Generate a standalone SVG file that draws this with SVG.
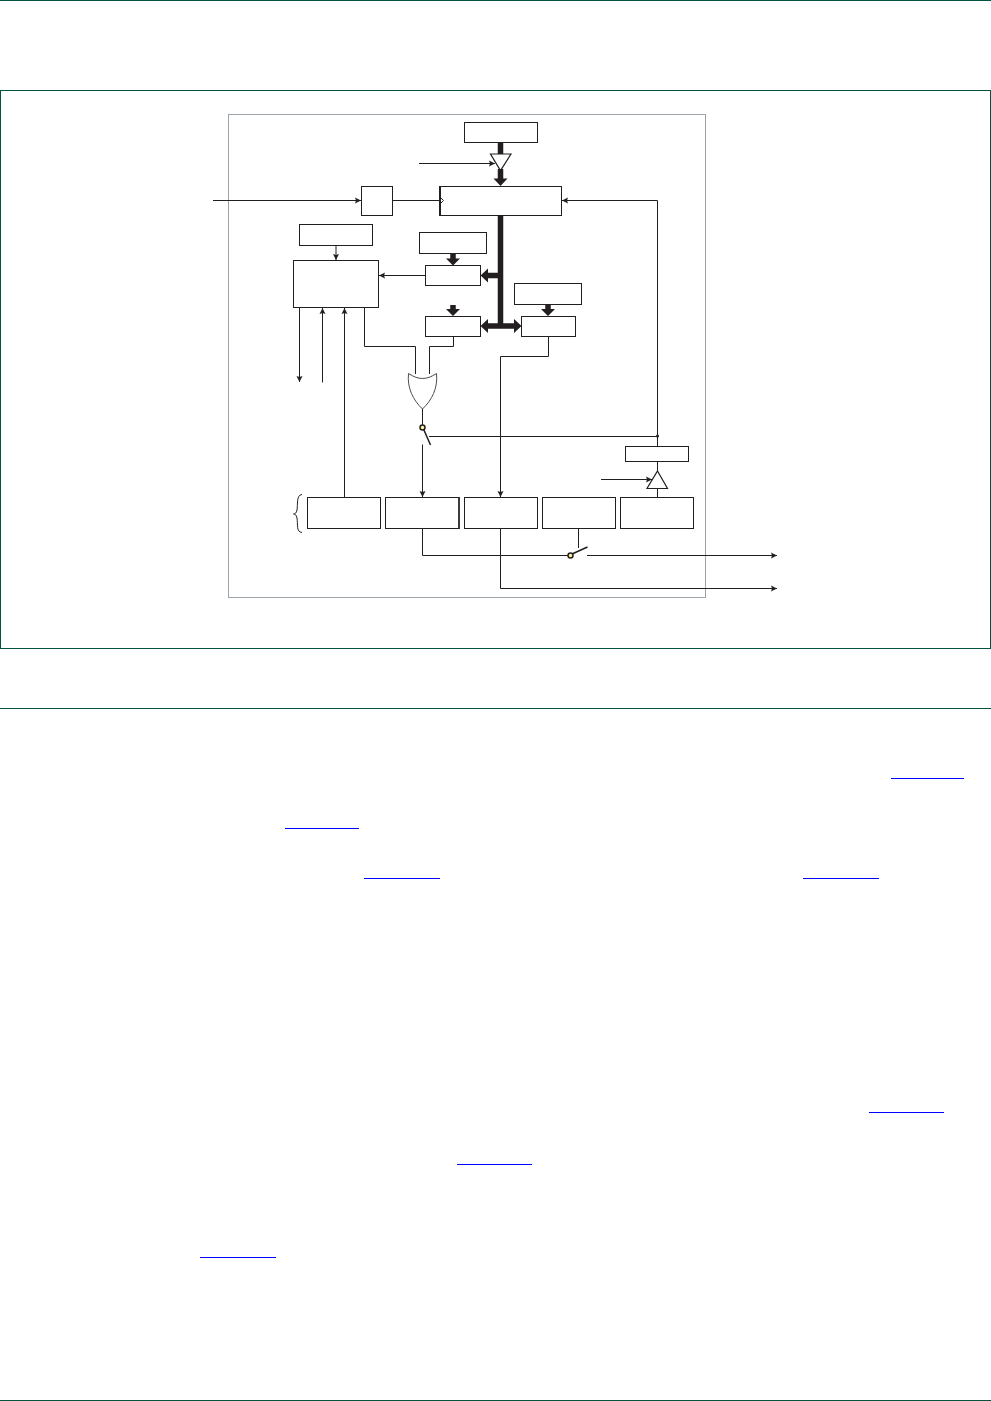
<svg xmlns="http://www.w3.org/2000/svg" width="991" height="1401" viewBox="0 0 991 1401">
<style>
.b{fill:#fff;stroke:#231f20;stroke-width:1}
.l{fill:none;stroke:#231f20;stroke-width:1}
.t{fill:none;stroke:#231f20;stroke-width:5.5}
.h{fill:#231f20}
.g{fill:none;stroke:#00543f;stroke-width:1}
.u{fill:none;stroke:#0000ff;stroke-width:1}
</style>
<defs>
<marker id="a" markerUnits="userSpaceOnUse" markerWidth="7" markerHeight="7" refX="6" refY="3.5" orient="auto"><path d="M0 .5L6 3.5L0 6.500L1 3.500Z" fill="#231f20"/></marker>
</defs>
<rect width="991" height="1401" fill="#fff"/>
<g id="page-rules">
<path class="g" d="M0 .5H991M0 708.500H991M0 1400.500H991"/>
<rect class="g" x=".5" y="90.500" width="990" height="558"/>
</g>
<g id="links">
<path class="u" d="M891 778.500H964M285 828.500H359M364 878.500H440M803 878.500H879M869 1112.500H944M457 1164.500H532M200 1257.500H276"/>
</g>
<rect id="frame" x="228.500" y="114.500" width="477" height="483" fill="none" stroke="#9da3aa" stroke-width="1"/>
<g id="buffer-top"><path d="M490.500 154H511L500.500 170.500Z" fill="#fff" stroke="#231f20" stroke-width="1.200"/></g>
<g id="buffer-bottom"><path d="M657.500 471L667.500 488.500H647Z" fill="#fff" stroke="#231f20" stroke-width="1.200"/></g>
<g id="counter"><rect class="b" x="439.500" y="186.500" width="122" height="29"/><path d="M440 186V216" stroke="#231f20" stroke-width="2"/></g>
<g id="connectors">
<path class="t" d="M500.500 142V154M500.500 169V180M500.500 215V326M500 275.500H487M486 326H516M453 253V259M453 305V310M548 304V310"/>
<path class="h" d="M500.500 186L493.500 178.500H507.500ZM480.500 275.500L488 268.500V282.500ZM480.500 326L488 319V333ZM521.500 326L514 319V333ZM453 265.500L446 258.500H460ZM453 316L446 309H460ZM548 316L541 309H555Z"/>
<path class="l" marker-end="url(#a)" d="M419 163.500H495"/>
<path class="l" marker-end="url(#a)" d="M213 200.500H361"/>
<path class="l" d="M392.500 200.500H440"/>
<path class="l" stroke-width="1.500" d="M440.500 197.500L443.500 200.500L440.500 203.500"/>
<path class="l" marker-end="url(#a)" d="M657.500 436V200.500H562"/>
<path class="l" marker-end="url(#a)" d="M336 245V260"/>
<path class="l" marker-end="url(#a)" d="M425 275.500H379"/>
<path class="l" marker-end="url(#a)" d="M299.500 307.500V382"/>
<path class="l" marker-end="url(#a)" d="M322.500 382.500V308"/>
<path class="l" marker-end="url(#a)" d="M344.500 497V308"/>
<path class="l" d="M364.500 307.500V346.500H415.500V374"/>
<path class="l" d="M453.500 336.500V346.500H429.500V374"/>
<path class="l" d="M422.500 409V425"/>
<path class="l" d="M429 436.500H657.500V446.500"/>
<path class="l" marker-end="url(#a)" d="M422.500 444.500V497"/>
<path class="l" marker-end="url(#a)" d="M548.500 336.500V356.500H500.500V497"/>
<path class="l" d="M657.500 461.500V471M657.500 488.500V497.500"/>
<path class="l" marker-end="url(#a)" d="M601 479.500H652"/>
<path class="l" d="M422.500 528.500V555.500H568"/>
<path class="l" d="M578.500 528.500V548"/>
<path class="l" marker-end="url(#a)" d="M587 555.500H777"/>
<path class="l" marker-end="url(#a)" d="M500.500 528.500V588.500H777"/>
<path class="l" d="M302 494.500C296 495 298 505 297 510C296.500 513 295 514 293.500 514C295 514 296.500 515 297 518C298 524 296 532 302 532.500"/>
<circle class="h" cx="657.500" cy="436" r="1.500"/>
</g>
<g id="top-register"><rect class="b" x="464.500" y="122.500" width="73" height="20"/></g>
<g id="clock-box"><rect class="b" x="361.500" y="186.500" width="31" height="29"/></g>
<g id="box-a"><rect class="b" x="299.500" y="224.500" width="73" height="21"/></g>
<g id="control"><rect class="b" x="293.500" y="260.500" width="85" height="47"/></g>
<g id="box-b"><rect class="b" x="419.500" y="232.500" width="67" height="21"/></g>
<g id="box-c"><rect class="b" x="425.500" y="265.500" width="55" height="20"/></g>
<g id="box-d"><rect class="b" x="425.500" y="316.500" width="55" height="20"/></g>
<g id="box-e"><rect class="b" x="514.500" y="283.500" width="67" height="21"/></g>
<g id="box-f"><rect class="b" x="521.500" y="316.500" width="54" height="20"/></g>
<g id="or-gate"><path d="M408.500 373.500C414 377 418 378.500 422.500 378.500C427 378.500 431 377 436.500 373.500C438 388 432 400 422.500 409C413 400 407 388 408.500 373.500Z" fill="#fff" stroke="#4d4d4f" stroke-width="1"/></g>
<g id="switch-1"><path d="M423.500 429L430.500 445" stroke="#231f20" stroke-width="1.500"/><circle cx="422.500" cy="427.500" r="2.500" fill="#fff3a0" stroke="#231f20" stroke-width="1.500"/></g>
<g id="switch-2"><path d="M572 554L587.500 547" stroke="#231f20" stroke-width="1.500"/><circle cx="570.500" cy="555.500" r="2.500" fill="#fff3a0" stroke="#231f20" stroke-width="1.500"/></g>
<g id="box-g"><rect class="b" x="625.500" y="446.500" width="63" height="15"/></g>
<g id="reg-1"><rect class="b" x="307.500" y="497.500" width="73" height="31"/></g>
<g id="reg-2"><rect class="b" x="385.500" y="497.500" width="73.500" height="31"/><path d="M459 497V529" stroke="#231f20" stroke-width="1.500"/></g>
<g id="reg-3"><rect class="b" x="464.500" y="497.500" width="73" height="31"/></g>
<g id="reg-4"><rect class="b" x="542.500" y="497.500" width="73" height="31"/></g>
<g id="reg-5"><rect class="b" x="620.500" y="497.500" width="73" height="31"/></g>
</svg>
